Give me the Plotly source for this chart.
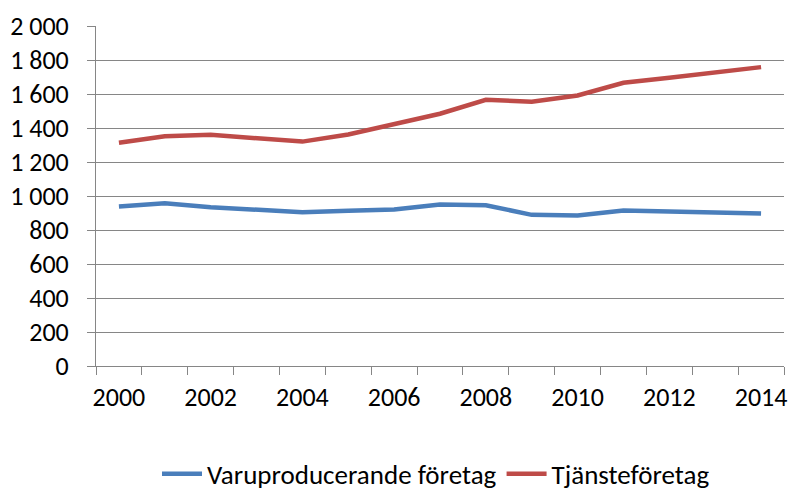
import plotly.graph_objects as go

years = list(range(2000, 2015))
varuproducerande = [938, 958, 934, 919, 905, 913, 920, 950, 946, 889, 885, 915, 909, 897, 897]
tjanste = [1313, 1352, 1360, 1340, 1320, 1362, 1420, 1484, 1566, 1554, 1591, 1666, 1695, 1725, 1758]
series_names = ["Varuproducerande företag", "Tjänsteföretag"]
x_labels = [str(y) for y in years]

font_family = "Carlito, Open Sans, sans-serif"
idx = list(range(len(years)))

fig = go.Figure()
fig.add_trace(go.Scatter(x=idx, y=varuproducerande, mode="lines", name=series_names[0],
                         line=dict(color="#4A7EBB", width=4.5)))
fig.add_trace(go.Scatter(x=idx, y=tjanste, mode="lines", name=series_names[1],
                         line=dict(color="#BE4B48", width=4.5)))

fig.update_layout(
    width=792, height=492,
    margin=dict(l=96, r=8, t=26, b=126, autoexpand=False),
    paper_bgcolor="white", plot_bgcolor="white",
    separators=", ",
    font=dict(family=font_family, size=26, color="black"),
    showlegend=True,
    legend=dict(orientation="h", x=(157 - 96) / 688, xanchor="left", y=-0.318, yanchor="middle",
                font=dict(size=27), traceorder="normal", itemwidth=40),
    xaxis=dict(
        range=[-0.5, len(years) - 0.5],
        tickmode="array",
        tickvals=idx[::2],
        ticktext=x_labels[::2],
        ticks="",
        showgrid=False,
        showline=True, linecolor="#868686", linewidth=1,
        zeroline=False,
        automargin=False,
        ticklabelstandoff=8,
        minor=dict(tickmode="array", tickvals=[i - 0.5 for i in range(len(years) + 1)],
                   ticks="outside", ticklen=8, tickcolor="#868686", tickwidth=1, showgrid=False),
    ),
    yaxis=dict(
        range=[0, 2000], dtick=200, tick0=0,
        tickformat=",d",
        showgrid=True, gridcolor="#868686", gridwidth=1,
        showline=True, linecolor="#868686", linewidth=1,
        ticks="outside", ticklen=8, tickcolor="#868686",
        zeroline=False,
        automargin=False,
        ticklabelstandoff=13,
    ),
)

fig.write_html("out.html", config={"displayModeBar": False},
               post_script="document.body.style.margin='0';")
